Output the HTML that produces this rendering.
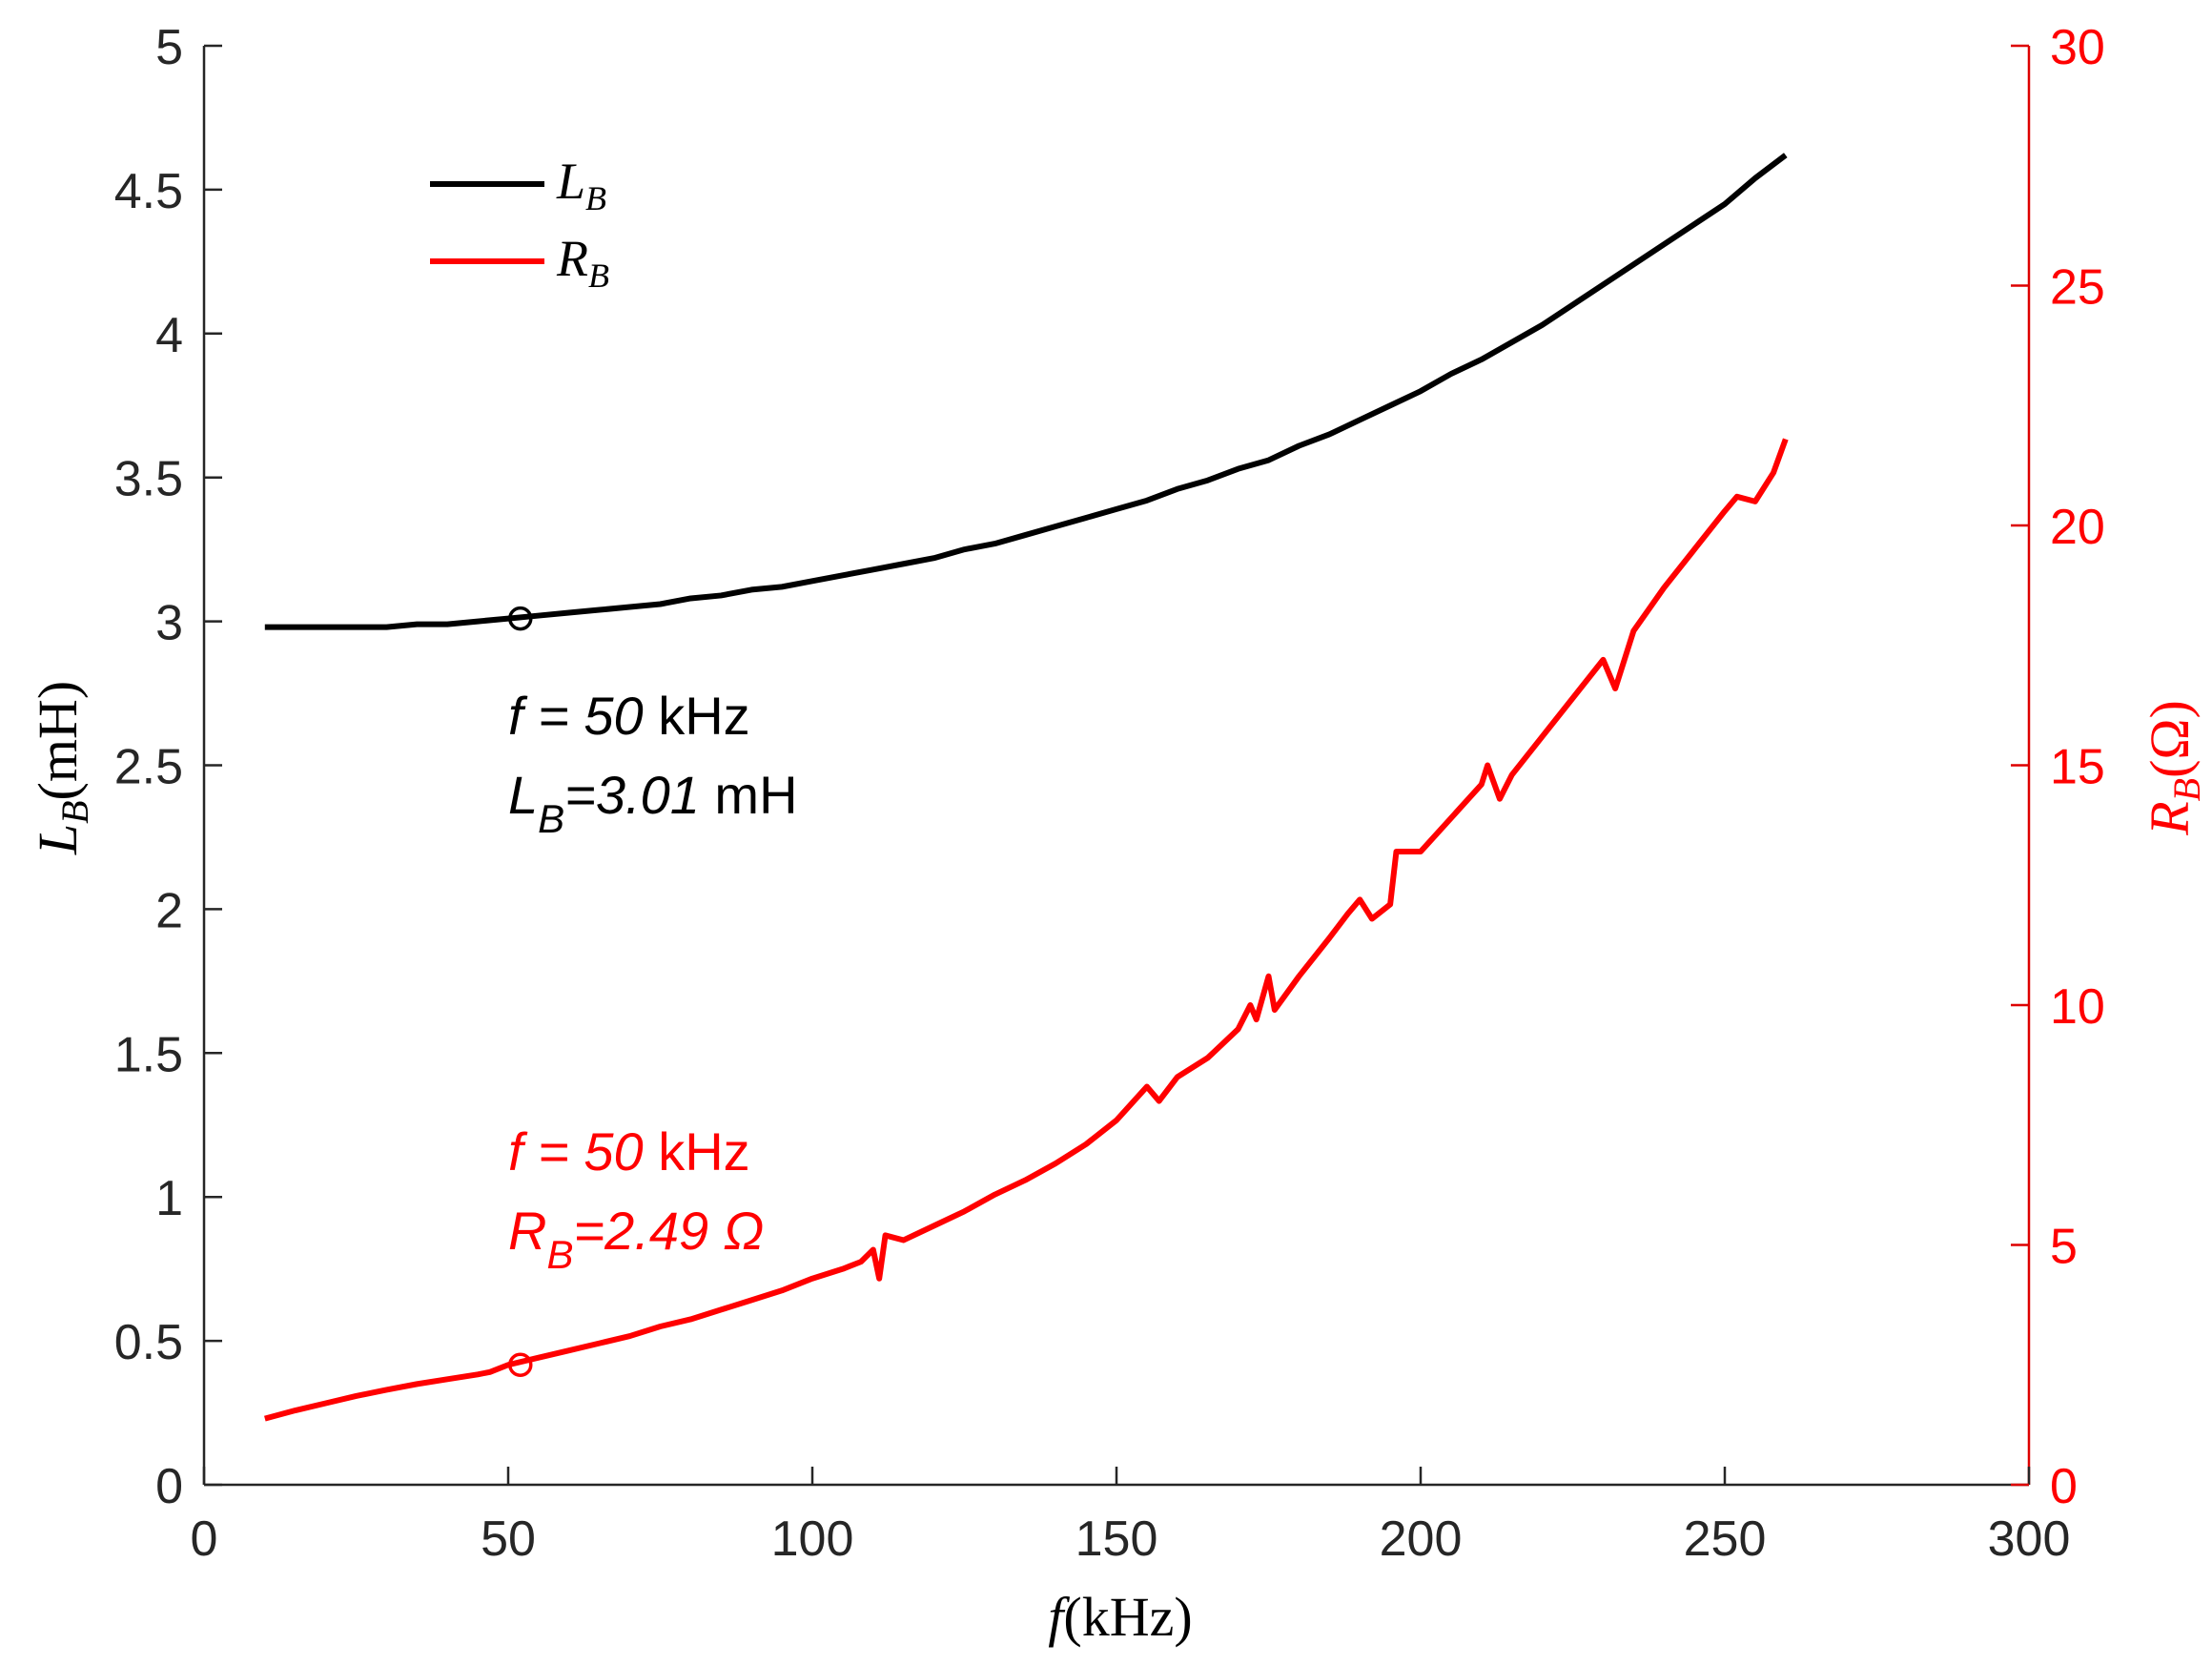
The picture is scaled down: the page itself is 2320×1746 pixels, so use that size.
<!DOCTYPE html>
<html><head><meta charset="utf-8"><style>
html,body{margin:0;padding:0;background:#fff}
svg{display:block}
text{font-family:"Liberation Sans",sans-serif}
.serif{font-family:"Liberation Serif",serif}
</style></head><body>
<svg id="chart" width="2320" height="1746" viewBox="0 0 2320 1746" xmlns="http://www.w3.org/2000/svg">
<g id="axes"></g>
<g id="series"></g>
<g>
  <line x1="451" y1="193" x2="571" y2="193" stroke="#000" stroke-width="6"/>
  <text class="serif" x="584" y="208" font-size="54" font-style="italic">L<tspan font-size="36" dy="12">B</tspan></text>
  <line x1="451" y1="274" x2="571" y2="274" stroke="#f00" stroke-width="6"/>
  <text class="serif" x="584" y="289" font-size="54" font-style="italic">R<tspan font-size="36" dy="12">B</tspan></text>
</g>
<g font-size="56">
  <text x="533" y="770"><tspan font-style="italic">f = 50</tspan> kHz</text>
  <text x="533" y="853"><tspan font-style="italic">L</tspan><tspan font-size="42" dy="20" font-style="italic">B</tspan><tspan dy="-20" font-style="italic">=3.01</tspan> mH</text>
</g>
<g font-size="56" fill="#f00">
  <text x="533" y="1227"><tspan font-style="italic">f = 50</tspan> kHz</text>
  <text x="533" y="1310"><tspan font-style="italic">R</tspan><tspan font-size="42" dy="20" font-style="italic">B</tspan><tspan dy="-20" font-style="italic">=2.49 Ω</tspan></text>
</g>
<text class="serif" x="1175" y="1715" font-size="58" text-anchor="middle"><tspan font-style="italic">f</tspan>(kHz)</text>
<text class="serif" font-size="58" text-anchor="middle" transform="translate(80,805) rotate(-90)"><tspan font-style="italic">L</tspan><tspan font-size="40" dy="12" font-style="italic">B</tspan><tspan dy="-12">(mH)</tspan></text>
<text class="serif" font-size="58" fill="#f00" text-anchor="middle" transform="translate(2295,805) rotate(-90)"><tspan font-style="italic">R</tspan><tspan font-size="40" dy="12" font-style="italic">B</tspan><tspan dy="-12">(Ω)</tspan></text>
</svg>
<script>
const xTicks = [0,50,100,150,200,250,300];
const yLeftTicks = [0,0.5,1,1.5,2,2.5,3,3.5,4,4.5,5];
const yRightTicks = [0,5,10,15,20,25,30];
const lFreq = [10,15,20,25,30,35,40,45,50,55,60,65,70,75,80,85,90,95,100,105,110,115,120,125,130,135,140,145,150,155,160,165,170,175,180,185,190,195,200,205,210,215,220,225,230,235,240,245,250,255,260];
const lValues = [2.98,2.98,2.98,2.98,2.98,2.99,2.99,3.00,3.01,3.02,3.03,3.04,3.05,3.06,3.08,3.09,3.11,3.12,3.14,3.16,3.18,3.20,3.22,3.25,3.27,3.30,3.33,3.36,3.39,3.42,3.46,3.49,3.53,3.56,3.61,3.65,3.70,3.75,3.80,3.86,3.91,3.97,4.03,4.10,4.17,4.24,4.31,4.38,4.45,4.54,4.62];
const rFreq = [10,15,20,25,30,35,40,45,47,50,55,60,65,70,75,80,85,90,95,100,105,108,110,111,112,115,120,125,130,135,140,145,150,155,157,160,165,170,172,173,175,176,180,185,188,190,192,195,196,200,205,210,211,213,215,220,225,230,232,235,240,245,250,252,255,258,260];
const rValues = [1.38,1.55,1.7,1.85,1.98,2.1,2.2,2.3,2.35,2.5,2.65,2.8,2.95,3.1,3.3,3.45,3.65,3.85,4.05,4.3,4.5,4.65,4.9,4.3,5.2,5.1,5.4,5.7,6.05,6.35,6.7,7.1,7.6,8.3,8.0,8.5,8.9,9.5,10.0,9.7,10.6,9.9,10.6,11.4,11.9,12.2,11.8,12.1,13.2,13.2,13.9,14.6,15.0,14.3,14.8,15.6,16.4,17.2,16.6,17.8,18.7,19.5,20.3,20.6,20.5,21.1,21.8];
const markerFreq = [52];
const markerL = [3.01];
const markerR = [2.5];

const X0=214, X1=2128, YT=48, YB=1557;
const NS='http://www.w3.org/2000/svg';
const xs = v => X0 + (v/300)*(X1-X0);
const yl = v => YB - (v/5)*(YB-YT);
const yr = v => YB - (v/30)*(YB-YT);
function mk(tag, attrs, parent){const e=document.createElementNS(NS,tag);for(const k in attrs)e.setAttribute(k,attrs[k]);parent.appendChild(e);return e;}
const axes=document.getElementById('axes'), series=document.getElementById('series');

let e;
e=mk('line',{x1:X0,y1:YB,x2:X1,y2:YB,stroke:'#262626','stroke-width':2.5},axes);


e=mk('line',{x1:X0,y1:YT,x2:X0,y2:YB,stroke:'#262626','stroke-width':2.5},axes);


e=mk('line',{x1:X1,y1:YT,x2:X1,y2:YB,stroke:'#d00','stroke-width':2.5},axes);



xTicks.forEach(v=>{
  e=mk('line',{x1:xs(v),y1:YB,x2:xs(v),y2:YB-19,stroke:'#262626','stroke-width':2.5},axes);
  
  
  e=mk('text',{x:xs(v),y:YB+74,'font-size':52,'text-anchor':'middle',fill:'#262626'},axes);
  e.textContent=v;
  
  
});
yLeftTicks.forEach(v=>{
  e=mk('line',{x1:X0,y1:yl(v),x2:X0+19,y2:yl(v),stroke:'#262626','stroke-width':2.5},axes);
  
  
  e=mk('text',{x:X0-22,y:yl(v)+19,'font-size':52,'text-anchor':'end',fill:'#262626'},axes);
  e.textContent=v;
  
  
});
yRightTicks.forEach(v=>{
  e=mk('line',{x1:X1,y1:yr(v),x2:X1-19,y2:yr(v),stroke:'#d00','stroke-width':2.5},axes);
  
  
  e=mk('text',{x:X1+22,y:yr(v)+19,'font-size':52,'text-anchor':'start',fill:'#f00'},axes);
  e.textContent=v;
  
  
});

e=mk('polyline',{points:lFreq.map((f,i)=>xs(f)+','+yl(lValues[i])).join(' '),fill:'none',stroke:'#000','stroke-width':6,'stroke-linejoin':'round'},series);


e=mk('polyline',{points:rFreq.map((f,i)=>xs(f)+','+yr(rValues[i])).join(' '),fill:'none',stroke:'#f00','stroke-width':6,'stroke-linejoin':'round'},series);


markerFreq.forEach((f,i)=>{
  e=mk('circle',{cx:xs(f),cy:yl(markerL[i]),r:11,fill:'none',stroke:'#000','stroke-width':3.5},series);
  
  
  e=mk('circle',{cx:xs(f),cy:yr(markerR[i]),r:11,fill:'none',stroke:'#f00','stroke-width':3.5},series);
  
  
});
</script>
</body></html>
